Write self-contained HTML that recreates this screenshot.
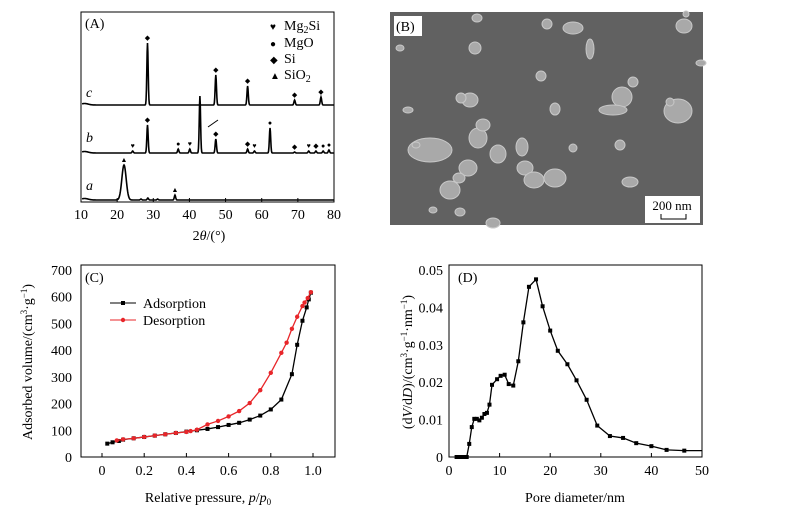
<!DOCTYPE html>
<html><head><meta charset="utf-8"><style>
body{margin:0;background:#fff}
svg{display:block;font-family:"Liberation Serif",serif}
</style></head><body>
<svg id="fig" width="803" height="518" viewBox="0 0 803 518">
<!-- Panel A -->
<g id="pa">
<rect x="81" y="12" width="253" height="190" fill="none" stroke="#000" stroke-width="1"/>
<text x="85" y="28" font-size="14">(A)</text>
<g font-size="14">
<text x="270" y="30" font-size="10">♥</text><text x="284" y="30">Mg<tspan font-size="10" dy="3">2</tspan><tspan dy="-3">Si</tspan></text>
<text x="270" y="47" font-size="10">●</text><text x="284" y="47">MgO</text>
<text x="270" y="63" font-size="10">◆</text><text x="284" y="63">Si</text>
<text x="270" y="79" font-size="10">▲</text><text x="284" y="79">SiO<tspan font-size="10" dy="3">2</tspan></text>
</g>
<text x="86" y="97" font-size="14" font-style="italic">c</text>
<text x="86" y="142" font-size="14" font-style="italic">b</text>
<text x="86" y="190" font-size="14" font-style="italic">a</text>
<line x1="218" y1="120" x2="208" y2="127" stroke="#000"/>
<text x="209" y="240" font-size="14" text-anchor="middle">2<tspan font-style="italic">θ</tspan>/(°)</text>
</g>
<!-- Panel B -->
<g id="pb">
<rect x="390" y="12" width="313" height="213" fill="#616161"/>
<rect x="394" y="16" width="28" height="20" fill="#fff"/>
<text x="396" y="31" font-size="14">(B)</text>
<rect x="645" y="196" width="55" height="27" fill="#fff"/>
<text x="672" y="210" font-size="13" text-anchor="middle">200 nm</text>
<path d="M661 214 V219 H686 V214" fill="none" stroke="#000"/>
</g>
<!-- Panel C -->
<g id="pc">
<rect x="81" y="265" width="254" height="192" fill="none" stroke="#000"/>
<text x="85" y="282" font-size="14">(C)</text>
<g>
<line x1="110" y1="303" x2="136" y2="303" stroke="#000"/><rect x="121" y="301" width="4" height="4" fill="#000"/>
<text x="143" y="308" font-size="14">Adsorption</text>
<line x1="110" y1="320" x2="136" y2="320" stroke="#e8262a"/><circle cx="123" cy="320" r="2.2" fill="#e8262a"/>
<text x="143" y="325" font-size="14">Desorption</text>
</g>
<text x="208" y="502" font-size="14" text-anchor="middle">Relative pressure, <tspan font-style="italic">p</tspan>/<tspan font-style="italic">p</tspan><tspan font-size="9" dy="3">0</tspan></text>
<text transform="translate(32,362) rotate(-90)" font-size="14" text-anchor="middle">Adsorbed volume/(cm<tspan font-size="9" dy="-5">3</tspan><tspan dy="5">·g</tspan><tspan font-size="9" dy="-5">−1</tspan><tspan dy="5">)</tspan></text>
</g>
<!-- Panel D -->
<g id="pd">
<rect x="449" y="265" width="253" height="192" fill="none" stroke="#000"/>
<text x="458" y="282" font-size="14">(D)</text>
<text x="575" y="502" font-size="14" text-anchor="middle">Pore diameter/nm</text>
<text transform="translate(412,362) rotate(-90)" font-size="14" text-anchor="middle">(d<tspan font-style="italic">V</tspan>/d<tspan font-style="italic">D</tspan>)/(cm<tspan font-size="9" dy="-5">3</tspan><tspan dy="5">·g</tspan><tspan font-size="9" dy="-5">−1</tspan><tspan dy="5">·nm</tspan><tspan font-size="9" dy="-5">−1</tspan><tspan dy="5">)</tspan></text>
</g>
</svg>
<script>
// ---- Panel A data ----
const xrdTicks=[10,20,30,40,50,60,70,80];
const peaksCPos=[28.4,47.3,56.1,69.1,76.4];
const peaksCH=[62,30,19,5,8];
const peaksBPos=[24.3,28.4,36.9,40.1,42.9,47.3,56.1,58.0,62.3,69.1,73.0,75.0,77.0,78.6];
const peaksBH=[2,28,4,4,57,14,4,2,25,1,2,2,2,3];
const peaksAPos=[21.9,26.6,28.5,31.2,36.0];
const peaksAH=[35,1,2,1,5];
const markC=["◆","◆","◆","◆","◆"];
const markB=["♥","◆","●","♥","","◆","◆","♥","●","◆","♥","◆","●","●"];
const markA=["▲","","","","▲"];
// ---- Panel C data ----
const adsP=[0.025,0.05,0.08,0.1,0.15,0.2,0.25,0.3,0.35,0.4,0.45,0.5,0.55,0.6,0.65,0.7,0.75,0.8,0.85,0.9,0.925,0.95,0.97,0.98,0.99];
const adsV=[50,55,60,65,70,75,80,85,90,95,100,105,112,120,128,140,155,178,215,310,420,510,560,590,615];
const desP=[0.07,0.1,0.15,0.2,0.25,0.3,0.35,0.4,0.42,0.45,0.5,0.55,0.6,0.65,0.7,0.75,0.8,0.85,0.875,0.9,0.925,0.95,0.96,0.975,0.99];
const desV=[62,66,70,75,80,85,90,94,97,102,122,135,152,172,202,250,315,390,428,480,525,565,578,595,617];
const cXTicks=[0,0.2,0.4,0.6,0.8,1.0];
const cXLabels=["0","0.2","0.4","0.6","0.8","1.0"];
const cYTicks=[0,100,200,300,400,500,600,700];
// ---- Panel D data ----
const poreD=[1.5,2,2.5,3,3.5,4,4.5,5,5.5,6,6.5,7,7.5,8,8.5,9.5,10.2,11,11.8,12.7,13.7,14.7,15.8,17.2,18.5,20,21.5,23.4,25.2,27.2,29.3,31.8,34.4,37,40,43,46.5];
const poreV=[0,0,0,0,0,0.0035,0.008,0.0102,0.0102,0.0098,0.0105,0.0115,0.0118,0.014,0.0193,0.0208,0.0217,0.022,0.0195,0.0191,0.0256,0.036,0.0455,0.0475,0.0403,0.0338,0.0284,0.0248,0.0205,0.0153,0.0084,0.0056,0.0051,0.0037,0.0029,0.0019,0.0017];
const dXTicks=[0,10,20,30,40,50];
const dYTicks=[0,0.01,0.02,0.03,0.04,0.05];
const dYLabels=["0","0.01","0.02","0.03","0.04","0.05"];

const NS="http://www.w3.org/2000/svg";
function mk(tag,attrs,parent){const e=document.createElementNS(NS,tag);for(const k in attrs)e.setAttribute(k,attrs[k]);parent.appendChild(e);return e;}
const pa=document.getElementById('pa'),pc=document.getElementById('pc'),pd=document.getElementById('pd');

// Panel A
const ax=v=>81+(v-10)*(253/70);
xrdTicks.forEach(t=>{
 const l=mk('line',{x1:ax(t),x2:ax(t),y1:202,y2:198,stroke:'#000'},pa);
 
 
 const tx=mk('text',{x:ax(t),y:219,'font-size':14,'text-anchor':'middle'},pa);tx.textContent=t;
 
 
});
function xrd(pos,h,marks,base,name,wScale){
 let d='';
 for(let x=10.3;x<=80;x+=0.1){
  let y=0;
  pos.forEach((p,i)=>{const w=(i===0&&wScale)?0.6:0.18;y+=h[i]*Math.exp(-((x-p)**2)/(2*w*w));});
  y+=1.5*Math.exp(-((x-11)**2)/2);
  d+=(d?'L':'M')+ax(x).toFixed(2)+' '+(base-y).toFixed(2);
 }
 const p=mk('path',{d:d,fill:'none',stroke:'#000','stroke-width':1.6},pa);
 
 
 pos.forEach((q,i)=>{if(!marks[i])return;
  const t=mk('text',{x:ax(q),y:base-h[i]-3,'font-size':7,'text-anchor':'middle'},pa);t.textContent=marks[i];
  
  });
}
xrd(peaksCPos,peaksCH,markC,105,'xrd-curve-c',false);
xrd(peaksBPos,peaksBH,markB,153,'xrd-curve-b',false);
xrd(peaksAPos,peaksAH,markA,200,'xrd-curve-a',true);

// Panel B particles (decorative)
const pb=document.getElementById('pb');
const blobs=[[430,150,22,12],[468,168,9,8],[478,138,9,10],[470,100,8,7],[483,125,7,6],[498,154,8,9],[525,168,8,7],[534,180,10,8],[555,178,11,9],[522,147,6,9],[622,97,10,10],[613,110,14,5],[678,111,14,12],[573,28,10,6],[590,49,4,10],[475,48,6,6],[477,18,5,4],[547,24,5,5],[684,26,8,7],[493,223,7,5],[630,182,8,5],[620,145,5,5],[573,148,4,4],[555,109,5,6],[461,98,5,5],[400,48,4,3],[460,212,5,4],[433,210,4,3],[408,110,5,3],[541,76,5,5],[633,82,5,5],[701,63,5,3],[416,145,4,3],[670,102,4,4],[686,14,3,3],[450,190,10,9],[459,178,6,5]];
blobs.forEach(b=>{const e=mk('ellipse',{cx:b[0],cy:b[1],rx:b[2],ry:b[3],fill:'#a9a9a9',stroke:'#c8c8c8','stroke-width':1},pb);
 
 });
pb.appendChild(pb.children[1]);pb.appendChild(pb.children[1]);pb.appendChild(pb.children[1]);pb.appendChild(pb.children[1]);pb.appendChild(pb.children[1]);

// Panel C
const cx=v=>102+v*211, cy=v=>457-v*(187/700);
cXTicks.forEach((t,i)=>{
 const l=mk('line',{x1:cx(t),x2:cx(t),y1:457,y2:453,stroke:'#000'},pc);
 
 
 const tx=mk('text',{x:cx(t),y:475,'font-size':14,'text-anchor':'middle'},pc);tx.textContent=cXLabels[i];
 
 
});
cYTicks.forEach(t=>{
 const tx=mk('text',{x:72,y:cy(t)+5,'font-size':14,'text-anchor':'end'},pc);tx.textContent=t;
 
 
});
function series(par,xs,ys,fx,fy,color,name,shape){
 const pts=xs.map((x,i)=>fx(x).toFixed(2)+','+fy(ys[i]).toFixed(2)).join(' ');
 const pl=mk('polyline',{points:pts,fill:'none',stroke:color,'stroke-width':1.3},par);
 
 
 xs.forEach((x,i)=>{let m;
  if(shape==='sq')m=mk('rect',{x:fx(x)-2,y:fy(ys[i])-2,width:4,height:4,fill:color},par);
  else m=mk('circle',{cx:fx(x),cy:fy(ys[i]),r:2.2,fill:color},par);
  
  });
}
series(pc,adsP,adsV,cx,cy,'#000','adsorption','sq');
series(pc,desP,desV,cx,cy,'#e8262a','desorption','ci');

// Panel D
const dx=v=>449+v*(253/50), dy=v=>457-v*(187/0.05);
dXTicks.forEach(t=>{
 const l=mk('line',{x1:dx(t),x2:dx(t),y1:457,y2:453,stroke:'#000'},pd);
 
 
 const tx=mk('text',{x:dx(t),y:475,'font-size':14,'text-anchor':'middle'},pd);tx.textContent=t;
 
 
});
dYTicks.forEach((t,i)=>{
 const tx=mk('text',{x:443,y:dy(t)+5,'font-size':14,'text-anchor':'end'},pd);tx.textContent=dYLabels[i];
 
 
});
series(pd,poreD,poreV,dx,dy,'#000','pore-distribution','sq');
const tail=mk('line',{x1:dx(46.5),y1:dy(0.0017),x2:dx(50),y2:dy(0.0017),stroke:'#000','stroke-width':1.3},pd);


</script>
</body></html>
